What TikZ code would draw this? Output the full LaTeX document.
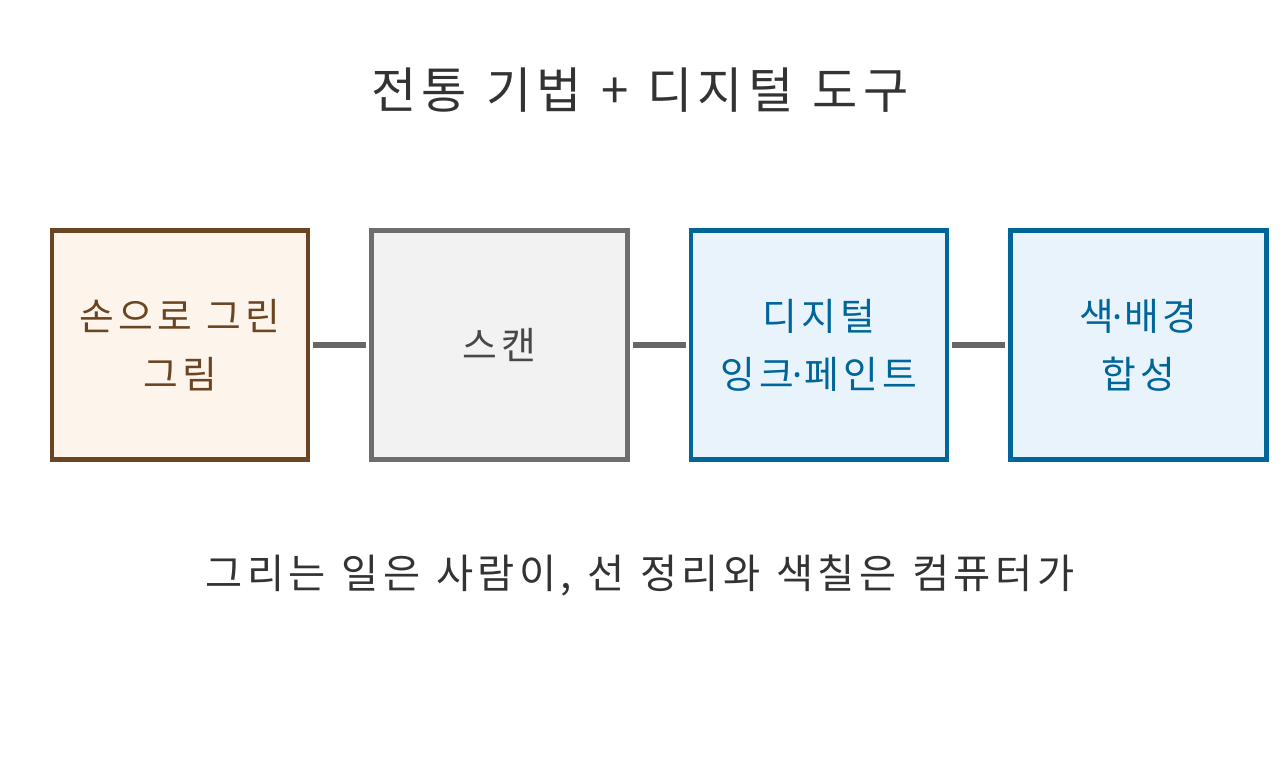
\documentclass[tikz,border=0pt]{standalone}
\usepackage{fontspec}
\setmainfont[LetterSpace=11,WordSpace=1.15]{Noto Sans CJK KR}
\newfontfamily\dotfont{Noto Sans}
\usetikzlibrary{positioning}
\definecolor{inkbrown}{HTML}{6B4522}
\definecolor{paperbrown}{HTML}{FDF5EC}
\definecolor{scangray}{HTML}{6E6E6E}
\definecolor{scanfill}{HTML}{F2F2F2}
\definecolor{digiblue}{HTML}{00669A}
\definecolor{digifill}{HTML}{E8F3FC}
\definecolor{darktext}{HTML}{333333}
\newcommand{\mdot}{{\dotfont\kern-0.05em·\kern0.05em}}

\begin{document}
\begin{tikzpicture}[x=0.02cm,y=-0.02cm,
    stage/.style={draw,line width=0.09cm,minimum width=5.12cm,minimum height=4.58cm,outer sep=0pt,
      align=center,font=\fontsize{21.5pt}{33pt}\selectfont},
    hand/.style={stage,draw=inkbrown,fill=paperbrown,text=inkbrown},
    scan/.style={stage,draw=scangray,fill=scanfill,text=darktext!90},
    digi/.style={stage,draw=digiblue,fill=digifill,text=digiblue},
    link/.style={draw=black!60,line width=0.12cm,shorten >=0.11cm,shorten <=0.11cm}]
    \useasboundingbox (0,0) rectangle (1280,768);
    \node [text=darktext,font=\fontsize{28pt}{34pt}\selectfont] (title) at (640,90) {전통 기법 + 디지털 도구};
    \node [hand] (drawing) at (180,345) {손으로 그린\\그림};
    \node [scan] (scan) at (499.5,345) {스캔};
    \node [digi] (ink) at (819,345) {디지털\\잉크\mdot 페인트};
    \node [digi] (color) at (1138.5,345) {색\mdot 배경\\합성};
    \path [link] (drawing) -- (scan);
    \path [link] (scan) -- (ink);
    \path [link] (ink) -- (color);
    \node [text=darktext,font=\fontsize{23pt}{28pt}\selectfont] (note) at (640,575) {그리는 일은 사람이, 선 정리와 색칠은 컴퓨터가};
\end{tikzpicture}
\end{document}
